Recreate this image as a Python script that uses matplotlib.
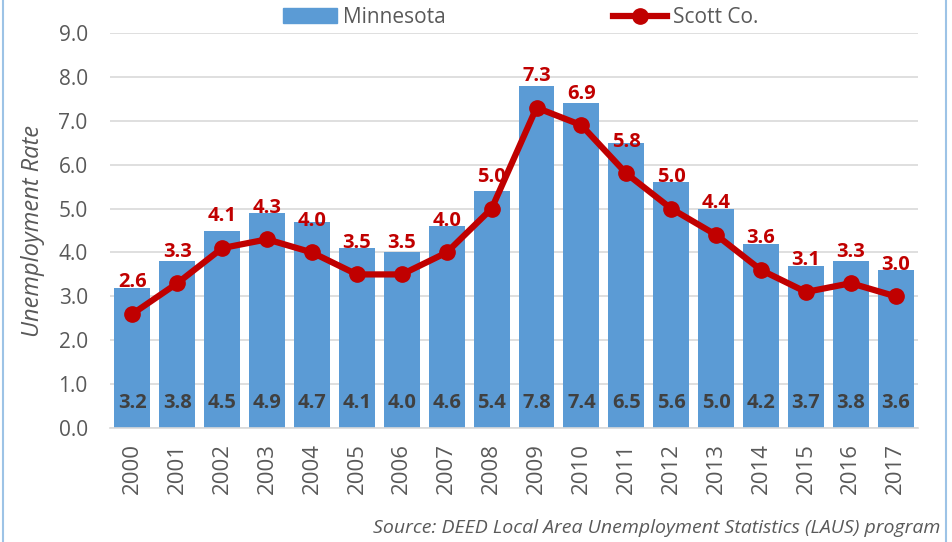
import matplotlib.pyplot as plt
from matplotlib.lines import Line2D
from matplotlib.patches import Patch

years = [str(y) for y in range(2000, 2018)]
minnesota = [3.2, 3.8, 4.5, 4.9, 4.7, 4.1, 4.0, 4.6, 5.4, 7.8, 7.4, 6.5, 5.6, 5.0, 4.2, 3.7, 3.8, 3.6]
scott = [2.6, 3.3, 4.1, 4.3, 4.0, 3.5, 3.5, 4.0, 5.0, 7.3, 6.9, 5.8, 5.0, 4.4, 3.6, 3.1, 3.3, 3.0]
yticks = [0, 1, 2, 3, 4, 5, 6, 7, 8, 9]

BLUE = '#5B9BD5'
RED = '#C00000'
GRAY = '#595959'

plt.rcParams['font.family'] = ['Open Sans', 'DejaVu Sans']

fig = plt.figure(figsize=(9.52, 5.42), dpi=100)
ax = fig.add_axes([0.1155, 0.2103, 0.849, 0.7287])

x = list(range(len(years)))
ax.bar(x, minnesota, width=0.8, color=BLUE, zorder=2)
ax.plot(x, scott, color=RED, lw=4.5, marker='o', ms=11, zorder=3)

for i in x:
    ax.text(i, 0.57, '%.1f' % minnesota[i], ha='center', va='center',
            fontsize=14.5, fontweight='bold', color='#404040', zorder=4)
    ax.text(i, scott[i] + 0.72, '%.1f' % scott[i], ha='center', va='center',
            fontsize=14.5, fontweight='bold', color=RED, zorder=4)

ax.set_xlim(-0.5, len(years) - 0.5)
ax.set_ylim(0, 9)
ax.set_yticks(yticks)
ax.set_yticklabels(['%.1f' % t for t in yticks])
ax.set_xticks(x)
ax.set_xticklabels(years, rotation=90)
ax.tick_params(axis='both', length=0, labelcolor=GRAY)
ax.tick_params(axis='y', pad=16, labelsize=15)
ax.tick_params(axis='x', pad=11, labelsize=16)
ax.grid(axis='y', color='#D9D9D9', lw=1.2, zorder=0)
for s in ['top', 'right', 'left']:
    ax.spines[s].set_visible(False)
ax.spines['bottom'].set_color('#D9D9D9')
ax.spines['bottom'].set_linewidth(1.2)

ax.set_ylabel('Unemployment Rate', fontsize=17, style='italic', color=GRAY, labelpad=10)

handles = [Patch(color=BLUE, label='Minnesota'),
           Line2D([0], [0], color=RED, lw=4.5, marker='o', ms=11, label='Scott Co.')]
fig.legend(handles=handles, loc='center', bbox_to_anchor=(0.547, 0.968), ncol=2,
           frameon=False, fontsize=15, labelcolor=GRAY, columnspacing=8,
           handlelength=2.6, handletextpad=0.3)

fig.text(0.988, 0.025, 'Source: DEED Local Area Unemployment Statistics (LAUS) program',
         ha='right', va='center', fontsize=14, style='italic', color=GRAY)

# light blue frame edges
fig.add_artist(Line2D([0.003, 0.003], [0, 1], color='#9DC3E6', lw=1.5))
fig.add_artist(Line2D([0.994, 0.994], [0, 1], color='#9DC3E6', lw=1.5))

fig.savefig('out.png', dpi=100)
